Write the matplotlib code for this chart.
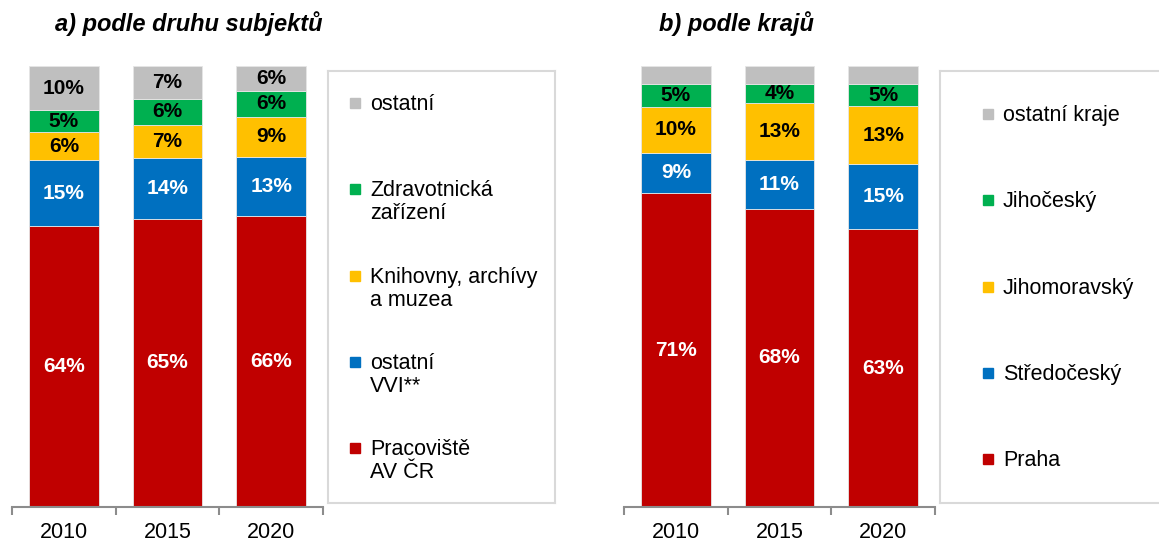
import numpy as np
import matplotlib
matplotlib.use('Agg')
import matplotlib.pyplot as plt
from matplotlib.patches import Rectangle

plt.rcParams['font.family'] = ['Liberation Sans', 'DejaVu Sans']

# --- Data ---
roky = ['2010', '2015', '2020']

# a) podle druhu subjektů (podíly v %)
subjekty = ['Pracoviště\nAV ČR', 'ostatní\nVVI**', 'Knihovny, archívy\na muzea',
            'Zdravotnická\nzařízení', 'ostatní']
pracoviste_av = [63.7, 65.4, 66.0]
ostatni_vvi = [15.0, 13.8, 13.4]
knihovny = [6.3, 7.4, 9.1]
zdravotnicka = [5.0, 6.0, 5.9]
ostatni = [10.0, 7.4, 5.6]

# b) podle krajů (podíly v %)
kraje = ['Praha', 'Středočeský', 'Jihomoravský', 'Jihočeský', 'ostatní kraje']
praha = [71.2, 67.6, 63.0]
stredocesky = [9.1, 11.1, 14.7]
jihomoravsky = [10.4, 12.9, 13.2]
jihocesky = [5.2, 4.3, 5.0]
ostatni_kraje = [4.1, 4.1, 4.1]

barvy = ['#C00000', '#0070C0', '#FFC000', '#00B050', '#BFBFBF']
barvy_textu = ['white', 'white', 'black', 'black', 'black']

W, H = 1159, 541
fig = plt.figure(figsize=(W / 100, H / 100), dpi=100)


def px_rect(x0, y0, x1, y1):
    # pixel box (top-left origin) -> figure fraction
    return [x0 / W, 1 - y1 / H, (x1 - x0) / W, (y1 - y0) / H]


def stacked(ax, serie, popisky):
    x = np.arange(len(roky))
    spodek = np.zeros(len(roky))
    for i, hodnoty in enumerate(serie):
        hodnoty = np.array(hodnoty)
        ax.bar(x, hodnoty, 0.67, bottom=spodek, color=barvy[i],
               edgecolor='#e6e6e6', linewidth=0.6)
        if popisky[i]:
            for xi, b, v in zip(x, spodek, hodnoty):
                ax.text(xi, b + v / 2, f'{v:.0f}%', ha='center', va='center',
                        fontsize=15, fontweight='bold', color=barvy_textu[i])
        spodek += hodnoty
    ax.set_xlim(-0.5, 2.5)
    ax.set_ylim(0, 100)
    for s in ['top', 'right', 'left']:
        ax.spines[s].set_visible(False)
    ax.spines['bottom'].set_color('#8c8c8c')
    ax.spines['bottom'].set_linewidth(1.5)
    ax.set_yticks([])
    ax.set_xticks(x)
    ax.set_xticklabels(roky, fontsize=15.5)
    ax.set_xticks([-0.5, 0.5, 1.5, 2.5], minor=True)
    ax.tick_params(axis='x', which='major', length=0, pad=11)
    ax.tick_params(axis='x', which='minor', length=6, width=1.5, color='#8c8c8c',
                   direction='out')


def legenda(box, nazvy, text_x, prvni_y, krok):
    lax = fig.add_axes(px_rect(*box))
    x0, y0, x1, y1 = box
    lax.set_xlim(0, x1 - x0)
    lax.set_ylim(y1 - y0, 0)
    lax.set_xticks([])
    lax.set_yticks([])
    for s in lax.spines.values():
        s.set_color('#d9d9d9')
        s.set_linewidth(1.5)
    for j, nazev in enumerate(reversed(nazvy)):
        barva = barvy[len(nazvy) - 1 - j]
        yc = prvni_y - y0 + j * krok
        lax.add_patch(Rectangle((text_x - x0 - 20, yc - 5), 10, 10, color=barva))
        lax.text(text_x - x0, yc - 9, nazev, fontsize=15.5, va='top', ha='left',
                 linespacing=1.12)


# a) podle druhu subjektů
ax1 = fig.add_axes(px_rect(12, 66, 323, 507))
stacked(ax1, [pracoviste_av, ostatni_vvi, knihovny, zdravotnicka, ostatni],
        [True, True, True, True, True])
legenda((328, 71, 555, 503), subjekty, 370, 103, 86.3)

# b) podle krajů
ax2 = fig.add_axes(px_rect(624, 66, 935, 507))
stacked(ax2, [praha, stredocesky, jihomoravsky, jihocesky, ostatni_kraje],
        [True, True, True, True, False])
legenda((940, 71, 1170, 503), kraje, 1003, 114, 86.3)

fig.text(189 / W, 1 - 24 / H, 'a) podle druhu subjektů', ha='center', va='center',
         fontsize=17, fontweight='bold', fontstyle='italic')
fig.text(736 / W, 1 - 24 / H, 'b) podle krajů', ha='center', va='center',
         fontsize=17, fontweight='bold', fontstyle='italic')

fig.savefig('out.png', dpi=100)
